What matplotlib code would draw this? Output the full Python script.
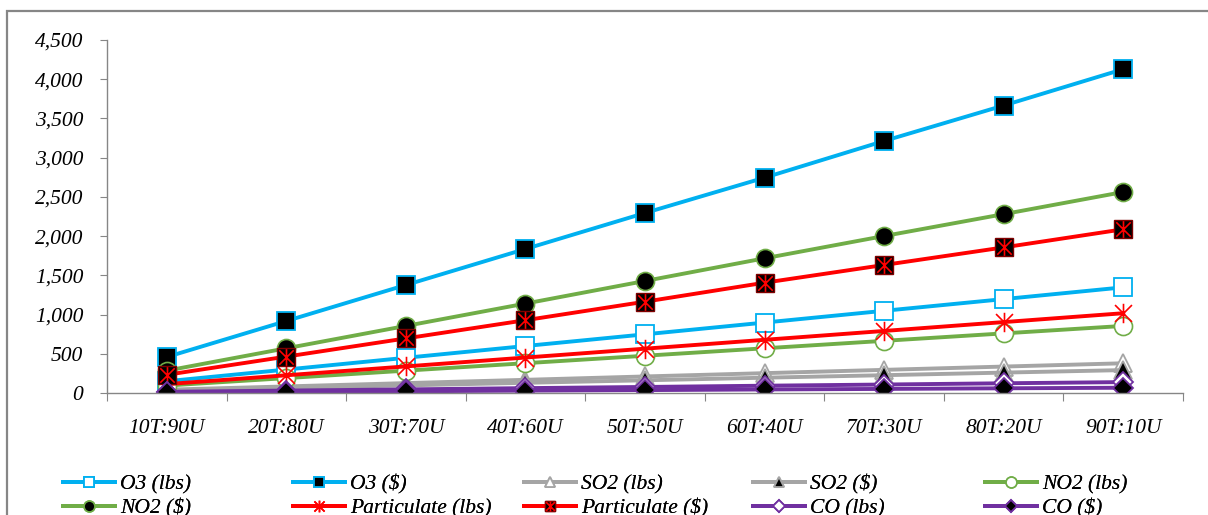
import matplotlib
matplotlib.use("Agg")
import matplotlib.pyplot as plt
from matplotlib.patches import Rectangle
from matplotlib.path import Path
from matplotlib.ticker import FuncFormatter, FixedLocator
from matplotlib.legend_handler import HandlerTuple

# categories (trucks : utility ratio)
categories = ['10T:90U', '20T:80U', '30T:70U', '40T:60U', '50T:50U',
              '60T:40U', '70T:30U', '80T:20U', '90T:10U']

o3_lbs = [150, 299, 449, 599, 748, 898, 1048, 1197, 1347]
o3_usd = [459, 918, 1377, 1836, 2295, 2745, 3213, 3665, 4128]
so2_lbs = [42, 84, 126, 168, 211, 253, 295, 337, 379]
so2_usd = [32, 65, 97, 130, 162, 195, 227, 260, 292]
no2_lbs = [95, 190, 285, 380, 475, 570, 665, 760, 855]
no2_usd = [285, 570, 855, 1140, 1428, 1717, 2001, 2280, 2562]
part_lbs = [113, 226, 339, 452, 565, 678, 791, 904, 1017]
part_usd = [232, 464, 696, 928, 1164, 1406, 1632, 1856, 2087]
co_lbs = [15, 31, 46, 62, 77, 93, 108, 124, 139]
co_usd = [7, 15, 22, 30, 37, 45, 52, 60, 67]

CYAN = '#00B0F0'
GRAY = '#A5A5A5'
GREEN = '#70AD47'
RED = '#FF0000'
PURPLE = '#7030A0'
AXC = '#868686'

plt.rcParams['font.family'] = ['Liberation Serif', 'DejaVu Serif']
plt.rcParams['font.style'] = 'italic'

# excel style "star": an x with a vertical bar through it
star = Path([(-1, -1), (1, 1), (-1, 1), (1, -1), (0, -1.15), (0, 1.15)],
            [Path.MOVETO, Path.LINETO, Path.MOVETO, Path.LINETO, Path.MOVETO, Path.LINETO])

fig = plt.figure(figsize=(12.08, 5.15), dpi=100)
ax = fig.add_axes([107/1208, 1 - 393/515, (1183 - 107)/1208, (393 - 40)/515])

x = list(range(len(categories)))
lw = 2.8

handles = []
h, = ax.plot(x, o3_lbs, color=CYAN, lw=lw, marker='s', ms=13, mfc='white', mec=CYAN, mew=1.3)
handles.append((h, 'O3 (lbs)'))
h, = ax.plot(x, o3_usd, color=CYAN, lw=lw, marker='s', ms=13, mfc='black', mec=CYAN, mew=1.3)
handles.append((h, 'O3 ($)'))
h, = ax.plot(x, so2_lbs, color=GRAY, lw=lw, marker='^', ms=13, mfc='white', mec=GRAY, mew=1.3)
handles.append((h, 'SO2 (lbs)'))
h, = ax.plot(x, so2_usd, color=GRAY, lw=lw, marker='^', ms=13, mfc='black', mec=GRAY, mew=1.3)
handles.append((h, 'SO2 ($)'))
h, = ax.plot(x, no2_lbs, color=GREEN, lw=lw, marker='o', ms=13, mfc='white', mec=GREEN, mew=1.2)
handles.append((h, 'NO2 (lbs)'))
h, = ax.plot(x, no2_usd, color=GREEN, lw=lw, marker='o', ms=13, mfc='black', mec=GREEN, mew=1.2)
handles.append((h, 'NO2 ($)'))
h, = ax.plot(x, part_lbs, color=RED, lw=lw, marker=star, ms=14, mfc='none', mec=RED, mew=1.2)
handles.append((h, 'Particulate (lbs)'))
h1, = ax.plot(x, part_usd, color=RED, lw=lw, marker='s', ms=13, mfc='black', mec='#7F0000', mew=1.0)
h2, = ax.plot(x, part_usd, ls='none', marker=star, ms=12, mfc='none', mec=RED, mew=1.2)
handles.append(((h1, h2), 'Particulate ($)'))
h, = ax.plot(x, co_lbs, color=PURPLE, lw=lw, marker='D', ms=10, mfc='white', mec=PURPLE, mew=1.3)
handles.append((h, 'CO (lbs)'))
h, = ax.plot(x, co_usd, color=PURPLE, lw=lw, marker='D', ms=10, mfc='black', mec=PURPLE, mew=1.3)
handles.append((h, 'CO ($)'))

ax.set_xlim(-0.5, len(categories) - 0.5)
ax.set_ylim(0, 4500)
ax.set_yticks(range(0, 4501, 500))
ax.yaxis.set_major_formatter(FuncFormatter(lambda v, p: f'{int(v):,}'))

# ticks on category boundaries, labels in the middle
ax.xaxis.set_major_locator(FixedLocator([i - 0.5 for i in range(len(categories) + 1)]))
ax.xaxis.set_minor_locator(FixedLocator(x))
ax.set_xticklabels([], minor=False)
ax.set_xticklabels(categories, minor=True)
ax.tick_params(axis='x', which='major', length=6, color=AXC, direction='out')
ax.tick_params(axis='x', which='minor', length=0, pad=19, labelsize=15.5)
ax.tick_params(axis='y', length=5, color=AXC, pad=12, labelsize=15.5)

for s in ['top', 'right']:
    ax.spines[s].set_visible(False)
for s in ['left', 'bottom']:
    ax.spines[s].set_color(AXC)
    ax.spines[s].set_linewidth(1.0)

# legend: 5 columns x 2 rows, each column its own legend to keep even spacing
col_x = [63, 293, 524, 753, 985]
for c in range(5):
    pair = [handles[c], handles[c + 5]]
    leg = fig.legend([p[0] for p in pair], [p[1] for p in pair],
                     loc='upper left', bbox_to_anchor=(col_x[c]/1208, 1 - 474/515),
                     frameon=False, fontsize=15.5, handlelength=2.4, handletextpad=0.25,
                     labelspacing=0.2, borderpad=0, borderaxespad=0, markerscale=0.6,
                     handler_map={tuple: HandlerTuple(ndivide=1, pad=0)})
    fig.add_artist(leg)

# chart area frame (cut by the image edge on right and bottom)
fig.patches.append(Rectangle((7/1208, -0.2), 1.5, 1.2 - 11/515, transform=fig.transFigure,
                             fill=False, edgecolor=AXC, lw=1.6))

fig.savefig('out.png', dpi=100)
